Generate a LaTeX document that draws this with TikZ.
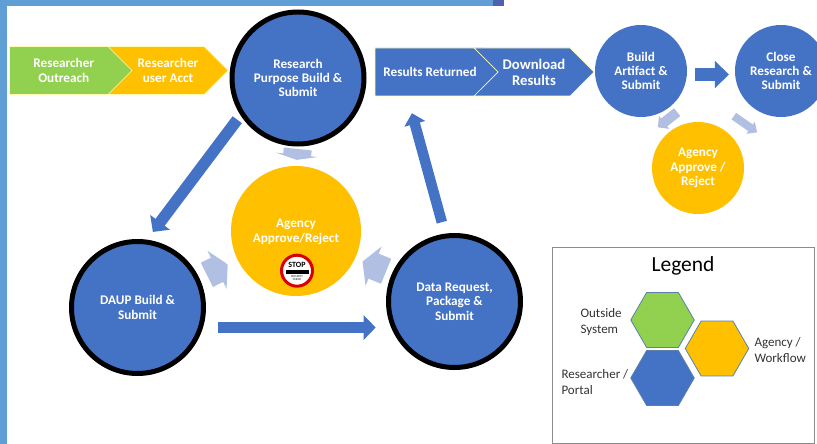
\documentclass[tikz,border=0pt]{standalone}
\usepackage{fontspec}
\setmainfont{Carlito}
\usepackage{xcolor}
\usetikzlibrary{shapes}
\usetikzlibrary{arrows.meta}
\definecolor{portalblue}{HTML}{4472C4}
\definecolor{agencyamber}{HTML}{FFC000}
\definecolor{outsidegreen}{HTML}{92D050}
\definecolor{softblue}{HTML}{B0BFE2}
\definecolor{framebar}{HTML}{5F9FD6}
\definecolor{framedark}{HTML}{4F62B0}
\definecolor{hexedge}{HTML}{5A82A8}
\newcommand{\bodyfont}{\fontsize{13.2}{14.3}\selectfont\bfseries}
\newcommand{\keyfont}{\fontsize{13}{16}\selectfont}
\newcommand{\stepnode}{\node[signal,signal pointer angle=90,signal to=east,inner sep=0,minimum height=48,text=white,align=center,font=\bodyfont,draw=white!70!yellow,line width=0.7]}
\newcommand{\bubblenode}{\node[circle,inner sep=0,text=white,align=center,font=\bodyfont]}
\newcommand{\hexnode}{\node[regular polygon,regular polygon sides=6,minimum size=63.5,inner sep=0,draw=hexedge,line width=0.8]}
\newcommand{\keynode}{\node[anchor=west,align=left,font=\keyfont,text=black!80]}
\tikzset{
  bigarrow/.style={draw=portalblue,line width=11.5,-{Triangle[width=24,length=12]}},
  softarrow/.style={draw=softblue,-{Triangle[width=42,length=12]}},
  purposering/.style={draw=black,line width=5,fill=portalblue,minimum size=132}
}
\begin{document}
\begin{tikzpicture}[x=1pt,y=-1pt]
      \clip (0,0) rectangle (817,444);
      \fill[white] (0,0) rectangle (817,444);
      \fill[framebar] (0,0) rectangle (7,444); %
      \fill[framebar] (0,0) rectangle (493,6); %
      \fill[framedark] (493,0) rectangle (504,6); %
      \stepnode[fill=outsidegreen,signal from=nowhere,minimum width=132.5] (outreach) at (63.75,70.5) {Researcher\\Outreach}; %
      \stepnode[fill=agencyamber,signal from=west,minimum width=120] (useracct) at (168,70.5) {Researcher\\user Acct}; %
      \stepnode[fill=portalblue,signal from=nowhere,minimum width=134] (returned) at (430,72) {Results Returned}; %
      \stepnode[fill=portalblue,signal from=west,minimum width=120,font=\fontsize{14.7}{16}\selectfont\bfseries] (download) at (534,72) {Download\\Results}; %
      \bubblenode[purposering] (purpose) at (298,78) {Research\\Purpose Build \&\\Submit}; %
      \bubblenode[purposering] (daup) at (137.5,307.5) {DAUP Build \&\\Submit}; %
      \bubblenode[purposering] (request) at (454.5,301.5) {Data Request,\\Package \&\\Submit}; %
      \bubblenode[fill=agencyamber,minimum size=130,text depth=0] (review) at (296,231) {\raisebox{8pt}{\parbox{100pt}{\centering Agency\\Approve/Reject}}}; %
      \bubblenode[fill=portalblue,minimum size=92] (artifact) at (641,71) {Build\\Artifact \&\\Submit}; %
      \bubblenode[fill=portalblue,minimum size=92] (closeout) at (781,71) {Close\\Research \&\\Submit}; %
      \bubblenode[fill=agencyamber,minimum size=92] (approve) at (698,168) {Agency\\Approve /\\Reject}; %
      \node[circle,draw=red!85!black,line width=3,fill=white,minimum size=31,inner sep=0] (stopsign) at (297,270.7) {}; %
      \node[inner sep=0,font=\fontsize{8}{8}\selectfont\bfseries] (stoptext) at (297,264.5) {STOP}; %
      \node[inner sep=0,font=\fontsize{3}{3.4}\selectfont,align=center] (stopcheck) at (297,278) {SECURITY\\CHECK}; %
      \fill[black] (285.5,270) rectangle (308.5,273.5); %
      \draw[bigarrow,shorten <=5.5,shorten >=9.7] (purpose.213) -- (daup.82.3);
      \draw[bigarrow,shorten <=15,shorten >=15.3] (daup.-17.4) -- (daup.-17.4 -| request.202.8);
      \draw[bigarrow,-{Triangle[width=21,length=11]},line width=10.5,shorten <=11.9,shorten >=17.5] (request.98.5) -- (returned.227.5);
      \draw[bigarrow,-{Triangle[width=27,length=14]},line width=13,shorten <=-1,shorten >=-1] ([shift={(9,3.5)}]artifact.east) -- ([shift={(-7,3.5)}]closeout.west);
      \draw[softarrow,line width=27,shorten <=8.2,shorten >=10.8] (daup.25) -- (review.206);
      \draw[softarrow,line width=27,shorten <=6.3,shorten >=8] (request.156.4) -- (review.-25);
      \draw[softarrow,line width=28,-{Triangle[width=42,length=5]},shorten <=2.5,shorten >=6] (purpose.south) -- (review.north);
      \draw[softarrow,line width=10,-{Triangle[width=16,length=8]}] ([shift={(3.5,8.5)}]artifact.-45) -- ([shift={(-7.5,-8)}]approve.135);
      \draw[softarrow,line width=8,-{Triangle[width=14,length=8]}] ([shift={(-14.5,12.5)}]closeout.-135) -- ([shift={(17.3,-16.1)}]approve.25);
      \node[draw=black!45,line width=1.6,minimum width=262,minimum height=196,inner sep=0] (legendbox) at (683.5,345.5) {}; %
      \node[font=\fontsize{21.5}{24}\selectfont] (legendtitle) at (683,266) {Legend}; %
      \hexnode[fill=outsidegreen] (hexoutside) at (662.5,320) {}; %
      \hexnode[fill=agencyamber] (hexagency) at (717,348.5) {}; %
      \hexnode[fill=portalblue] (hexportal) at (662.5,378) {}; %
      \keynode (keyoutside) at (577,322) {Outside\\System}; %
      \keynode (keyagency) at (751,350) {Agency /\\Workflow}; %
      \keynode (keyportal) at (558,382) {Researcher /\\Portal}; %
    \end{tikzpicture}
\end{document}
